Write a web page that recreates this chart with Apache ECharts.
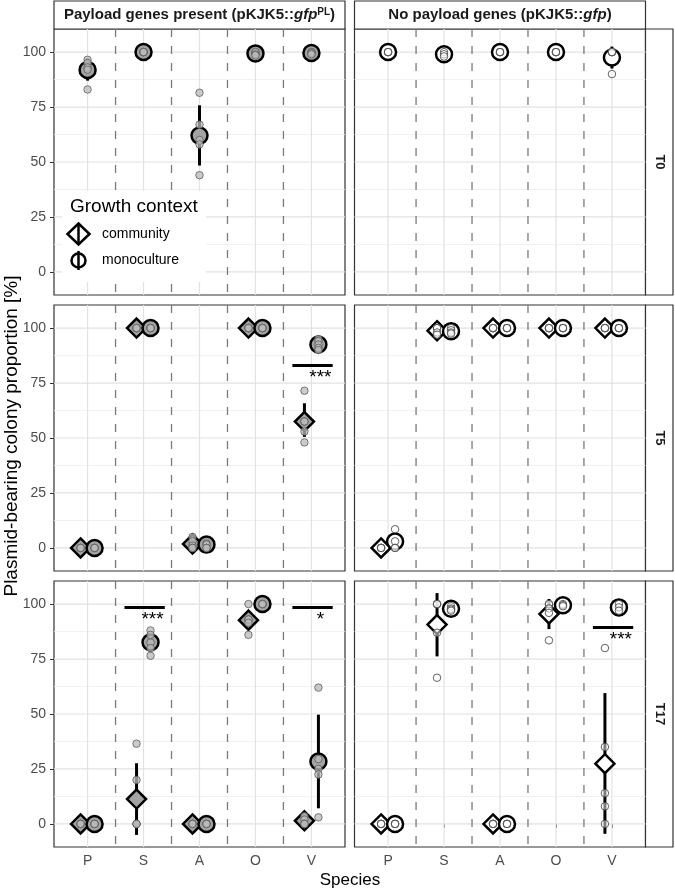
<!DOCTYPE html>
<html>
<head>
<meta charset="utf-8">
<script src="https://cdn.jsdelivr.net/npm/echarts@6/dist/echarts.min.js"></script>
<style>
  html, body { margin: 0; padding: 0; background: #fff; }
  #chart { width: 675px; height: 891px; }
</style>
</head>
<body>
<div id="chart"></div>
<script>
const species = ['P', 'S', 'A', 'O', 'V'];
const timepoints = ['T0', 'T5', 'T17'];
const yTicks = [0, 25, 50, 75, 100];
const yMinor = [12.5, 37.5, 62.5, 87.5];

// payload genes present (pKJK5::gfpPL) - replicates per species, summary = [mean, low, high]
const plT0MonoPts = [[96.5, 95, 93, 92, 83], [100, 100, 100, 100], [81.5, 67, 60, 58, 44], [100, 100, 99, 98.5], [100, 100, 99.5, 99]];
const plT0MonoSum = [[91.9, 87, 97], [100, 100, 100], [62, 48.4, 75.8], [99.4, 98.6, 100.2], [99.6, 99.1, 100.1]];
const plT5CommPts = [[0, 0, 0], [100, 100, 100], [5, 3, 1, 0, 0], [100, 100, 100], [71.5, 57.5, 57.5, 53, 48]];
const plT5CommSum = [[0, 0, 0], [100, 100, 100], [1.8, 0, 3.9], [100, 100, 100], [57.5, 50.5, 65.8]];
const plT5MonoPts = [[0, 0, 0], [100, 100, 100], [2, 1.5, 0, 0], [100, 100, 100], [95, 94, 92.5, 91, 90]];
const plT5MonoSum = [[0, 0, 0], [100, 100, 100], [1.5, 0, 3], [100, 100, 100], [92.5, 90.5, 94.5]];
const plT17CommPts = [[0, 0, 0], [36.5, 20, 0, 0, 0], [0, 0, 0], [100, 93, 93, 91.5, 86], [3.5, 2, 0, 0]];
const plT17CommSum = [[0, 0, 0], [11.3, -5, 27.6], [0, 0, 0], [92.7, 89, 96.5], [1.4, 0, 3]];
const plT17MonoPts = [[0, 0, 0], [88, 86, 82.5, 80, 76.5], [0, 0, 0], [100, 100, 100], [62, 29.5, 25, 22.5, 3]];
const plT17MonoSum = [[0, 0, 0], [82.6, 79, 86], [0, 0, 0], [100, 100, 100], [28.4, 7.1, 49.7]];

// no payload genes (pKJK5::gfp)
const npT0MonoPts = [[100, 100, 100], [100, 99, 98], [100, 100, 100], [100, 100, 100], [100, 100, 100, 90]];
const npT0MonoSum = [[100, 100, 100], [99, 98.2, 99.8], [100, 100, 100], [100, 100, 100], [97.5, 92.5, 102.5]];
const npT5CommPts = [[0, 0, 0], [100, 100, 98, 97], [100, 100, 100], [100, 100, 100], [100, 100, 100]];
const npT5CommSum = [[0, 0, 0], [98.8, 97.5, 100], [100, 100, 100], [100, 100, 100], [100, 100, 100]];
const npT5MonoPts = [[8.5, 3, 0, 0], [100, 99, 98, 97.5], [100, 100, 100], [100, 100, 100], [100, 100, 100]];
const npT5MonoSum = [[2.9, 0, 6.9], [98.6, 97.7, 99.5], [100, 100, 100], [100, 100, 100], [100, 100, 100]];
const npT17CommPts = [[0, 0, 0], [100, 100, 100, 87, 66.5], [0, 0, 0], [100, 100, 98, 96, 83.5], [80, 35, 14, 8, 0]];
const npT17CommSum = [[0, 0, 0], [90.7, 76.2, 105], [0, 0, 0], [95.5, 88.6, 102.3], [27.4, -4.5, 59.5]];
const npT17MonoPts = [[0, 0, 0], [99, 98, 97.5, 97], [0, 0, 0], [100, 99.5, 99], [100, 98.5, 97]];
const npT17MonoSum = [[0, 0, 0], [97.9, 97, 98.8], [0, 0, 0], [99.5, 99, 100], [98.5, 97, 100]];

// significance marks: [col, row, species, y, label]
const sigMarks = [
  [0, 1, 'V', 83, '***'],
  [0, 2, 'S', 98.4, '***'],
  [0, 2, 'V', 98.4, '*'],
  [1, 2, 'V', 89.3, '***']
];

const facets = [
  [0, 0, null, null, plT0MonoPts, plT0MonoSum],
  [1, 0, null, null, npT0MonoPts, npT0MonoSum],
  [0, 1, plT5CommPts, plT5CommSum, plT5MonoPts, plT5MonoSum],
  [1, 1, npT5CommPts, npT5CommSum, npT5MonoPts, npT5MonoSum],
  [0, 2, plT17CommPts, plT17CommSum, plT17MonoPts, plT17MonoSum],
  [1, 2, npT17CommPts, npT17CommSum, npT17MonoPts, npT17MonoSum]
];

const FONT = 'Liberation Sans, Arial, sans-serif';
const colX = [54, 354.5];
const colW = 291;
const rowY = [29, 305, 581];
const rowH = 266;
const dodge = 0.125;

let chart = echarts.init(document.getElementById('chart'));

const grids = [], xAxes = [], yAxes = [], series = [];

// background lines: [kind, value]  0 = h major, 1 = h minor, 2 = v major, 3 = v dashed
const lineData = [];
yTicks.forEach(v => lineData.push([0, v]));
yMinor.forEach(v => lineData.push([1, v]));
species.forEach((s, i) => lineData.push([2, i + 1]));
[1.5, 2.5, 3.5, 4.5].forEach(v => lineData.push([3, v]));

function renderLines(params, api) {
  const kind = api.value(0), v = api.value(1);
  const cs = params.coordSys;
  if (kind < 2) {
    const y = api.coord([1, v])[1];
    return {
      type: 'line',
      shape: { x1: cs.x, y1: y, x2: cs.x + cs.width, y2: y },
      style: { stroke: kind === 0 ? '#e2e2e2' : '#ededed', lineWidth: kind === 0 ? 1.2 : 0.8 }
    };
  }
  const x = api.coord([v, 0])[0];
  return {
    type: 'line',
    shape: { x1: x, y1: cs.y, x2: x, y2: cs.y + cs.height },
    style: kind === 2
      ? { stroke: '#e2e2e2', lineWidth: 1.2 }
      : { stroke: '#7a7a7a', lineWidth: 1.3, lineDash: [8, 9] }
  };
}

function renderBar(params, api) {
  const a = api.coord([api.value(0), api.value(1)]);
  const b = api.coord([api.value(0), api.value(2)]);
  return {
    type: 'line',
    shape: { x1: a[0], y1: a[1], x2: b[0], y2: b[1] },
    style: { stroke: '#000', lineWidth: 3 }
  };
}

facets.forEach(([col, row, cPts, cSum, mPts, mSum]) => {
  const g = grids.length;
  grids.push({
    left: colX[col], top: rowY[row], width: colW, height: rowH,
    show: true, borderColor: '#333', borderWidth: 1.2, backgroundColor: '#fff'
  });
  xAxes.push({
    gridIndex: g, type: 'value', min: 0.4, max: 5.6,
    axisLine: { show: false }, splitLine: { show: false },
    axisTick: { show: row === 2, customValues: [1, 2, 3, 4, 5], length: 4, lineStyle: { color: '#333' } },
    axisLabel: {
      show: row === 2, customValues: [1, 2, 3, 4, 5], margin: 7,
      formatter: v => species[Math.round(v) - 1] || '',
      color: '#4d4d4d', fontSize: 14, fontFamily: FONT
    }
  });
  yAxes.push({
    gridIndex: g, type: 'value', min: -10.5, max: 110.5,
    axisLine: { show: false }, splitLine: { show: false },
    axisTick: { show: col === 0, customValues: yTicks, length: 4, lineStyle: { color: '#333' } },
    axisLabel: {
      show: col === 0, customValues: yTicks, margin: 8,
      color: '#4d4d4d', fontSize: 14, fontFamily: FONT
    }
  });

  series.push({
    type: 'custom', xAxisIndex: g, yAxisIndex: g, z: 1, silent: true,
    renderItem: renderLines, data: lineData
  });

  const fill = col === 0 ? '#a3a3a3' : '#ffffff';
  const ptFill = col === 0 ? 'rgba(185,185,185,0.75)' : 'rgba(255,255,255,0.5)';
  const ptBorder = col === 0 ? 'rgba(85,85,85,0.75)' : 'rgba(70,70,70,0.85)';

  const groups = [];
  if (cPts) groups.push({ name: 'community', pts: cPts, sum: cSum, shape: 'diamond', size: 19, off: -dodge });
  groups.push({ name: 'monoculture', pts: mPts, sum: mSum, shape: 'circle', size: 16, off: cPts ? dodge : 0 });

  groups.forEach(gr => {
    series.push({
      type: 'custom', xAxisIndex: g, yAxisIndex: g, z: 3, silent: true,
      encode: { x: 0, y: [1, 2] },
      renderItem: renderBar,
      data: gr.sum.map((s, i) => [i + 1 + gr.off, s[1], s[2]])
    });
    series.push({
      name: gr.name, type: 'scatter', xAxisIndex: g, yAxisIndex: g, z: 4, silent: true,
      symbol: gr.shape, symbolSize: gr.size,
      itemStyle: { color: fill, borderColor: '#000', borderWidth: 2.5, opacity: 1 },
      data: gr.sum.map((s, i) => [i + 1 + gr.off, s[0]])
    });
    const pts = [];
    gr.pts.forEach((arr, i) => arr.forEach(v => pts.push([i + 1 + gr.off, v])));
    series.push({
      type: 'scatter', xAxisIndex: g, yAxisIndex: g, z: 5, silent: true,
      symbol: 'circle', symbolSize: 7.5,
      itemStyle: { color: ptFill, borderColor: ptBorder, borderWidth: 1, opacity: 1 },
      data: pts
    });
  });

  sigMarks.filter(m => m[0] === col && m[1] === row).forEach(m => {
    const sx = species.indexOf(m[2]) + 1;
    const label = m[4];
    series.push({
      type: 'custom', xAxisIndex: g, yAxisIndex: g, z: 6, silent: true,
      data: [[sx, m[3]]],
      renderItem: (params, api) => {
        const x0 = api.value(0), y0 = api.value(1);
        const a = api.coord([x0 - 0.34, y0]);
        const b = api.coord([x0 + 0.38, y0]);
        const t = api.coord([x0 + 0.16, y0]);
        return {
          type: 'group',
          children: [
            { type: 'line', shape: { x1: a[0], y1: a[1], x2: b[0], y2: b[1] }, style: { stroke: '#000', lineWidth: 3 } },
            { type: 'text', x: t[0], y: t[1] + 3, style: { text: label, fill: '#000', font: '19px ' + FONT, align: 'center', verticalAlign: 'top' } }
          ]
        };
      }
    });
  });
});

// strips, titles, legend
const graphics = [];
const headers = [
  '{b|Payload genes present (pKJK5::}{i|gfp}{s|PL}{b|)}',
  '{b|No payload genes (pKJK5::}{i|gfp}{b|)}'
];
const rich = {
  b: { fontSize: 15, fontWeight: 'bold', fontFamily: FONT, fill: '#1a1a1a' },
  i: { fontSize: 15, fontWeight: 'bold', fontStyle: 'italic', fontFamily: FONT, fill: '#1a1a1a' },
  s: { fontSize: 10, fontWeight: 'bold', fontFamily: FONT, fill: '#1a1a1a', verticalAlign: 'top' }
};
headers.forEach((h, c) => {
  graphics.push({ type: 'rect', shape: { x: colX[c], y: 1, width: colW, height: 28 }, style: { fill: '#fff', stroke: '#333', lineWidth: 1.2 } });
  graphics.push({ type: 'text', x: colX[c] + colW / 2, y: 15, style: { text: h, rich: rich, align: 'center', verticalAlign: 'middle' } });
});
timepoints.forEach((t, r) => {
  const sx = colX[1] + colW;
  graphics.push({ type: 'rect', shape: { x: sx, y: rowY[r], width: 27.5, height: rowH }, style: { fill: '#fff', stroke: '#333', lineWidth: 1.2 } });
  graphics.push({
    type: 'text', x: sx + 14, y: rowY[r] + rowH / 2, rotation: -Math.PI / 2,
    style: { text: t, font: 'bold 13px ' + FONT, fill: '#1a1a1a', align: 'center', verticalAlign: 'middle' }
  });
});
graphics.push({
  type: 'text', x: 12, y: 436, rotation: Math.PI / 2,
  style: { text: 'Plasmid-bearing colony proportion [%]', font: '19px ' + FONT, fill: '#000', align: 'center', verticalAlign: 'middle' }
});
graphics.push({
  type: 'text', x: 350, y: 880,
  style: { text: 'Species', font: '17px ' + FONT, fill: '#000', align: 'center', verticalAlign: 'middle' }
});

// legend (inside top-left panel), drawn above the panel lines
const LZ = 100;
graphics.push(
  { type: 'rect', z: LZ, shape: { x: 62, y: 191, width: 144, height: 91 }, style: { fill: '#fff' } },
  { type: 'text', z: LZ, x: 70, y: 207, style: { text: 'Growth context', font: '19px ' + FONT, fill: '#000', verticalAlign: 'middle' } },
  { type: 'polygon', z: LZ, shape: { points: [[78.5, 223.5], [89.5, 234], [78.5, 244.5], [67.5, 234]] }, style: { fill: '#fff', stroke: '#000', lineWidth: 2.5 } },
  { type: 'line', z: LZ + 1, shape: { x1: 78.5, y1: 223, x2: 78.5, y2: 245 }, style: { stroke: '#000', lineWidth: 2.5 } },
  { type: 'circle', z: LZ, shape: { cx: 78.5, cy: 260.5, r: 7 }, style: { fill: '#fff', stroke: '#000', lineWidth: 2.5 } },
  { type: 'line', z: LZ + 1, shape: { x1: 78.5, y1: 251, x2: 78.5, y2: 270 }, style: { stroke: '#000', lineWidth: 2.5 } },
  { type: 'text', z: LZ, x: 102, y: 234, style: { text: 'community', font: '14px ' + FONT, fill: '#000', verticalAlign: 'middle' } },
  { type: 'text', z: LZ, x: 102, y: 260.5, style: { text: 'monoculture', font: '14px ' + FONT, fill: '#000', verticalAlign: 'middle' } }
);

chart.setOption({
  animation: false,
  backgroundColor: '#fff',
  textStyle: { fontFamily: FONT },
  grid: grids,
  xAxis: xAxes,
  yAxis: yAxes,
  series: series,
  graphic: graphics
});
</script>
</body>
</html>
